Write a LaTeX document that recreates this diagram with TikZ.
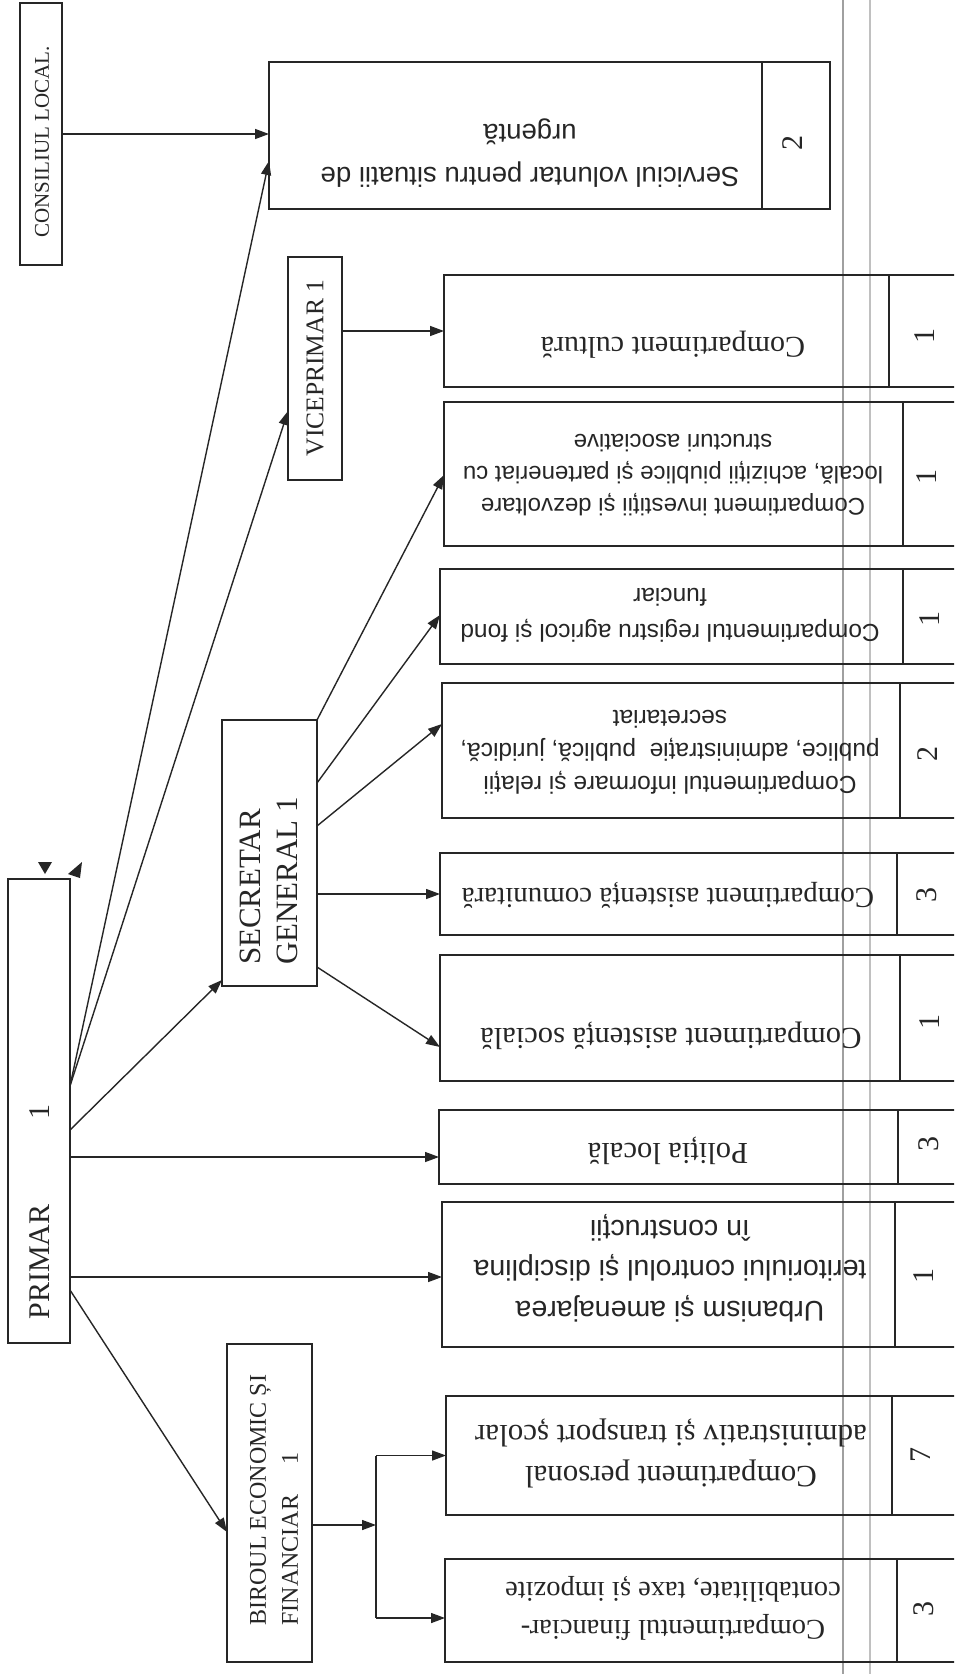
\documentclass[tikz,border=0pt]{standalone}
\usepackage{fontspec}
\setmainfont{Liberation Serif}
\newfontfamily\arialf{Liberation Sans}
\usetikzlibrary{arrows.meta}
\definecolor{ink}{HTML}{262626}
\definecolor{scanA}{HTML}{A0A0A0}
\definecolor{scanB}{HTML}{C0C0C0}
\newcommand{\myfs}[2]{\fontsize{#1}{#2}\selectfont}
\begin{document}
\begin{tikzpicture}[x=1pt,y=-1pt,
  box/.style={draw=ink,line width=1.7pt,inner sep=0pt,outer sep=0pt},
  btxt/.style={rotate=180,align=center,text=ink,inner sep=0pt},
  ltxt/.style={rotate=90,align=left,text=ink,inner sep=0pt},
  num/.style={rotate=90,text=ink,inner sep=0pt,font=\myfs{30}{34}},
  arr/.style={draw=ink,line width=1.4pt,-{Triangle[length=14pt,width=10pt]}},
  lin/.style={draw=ink,line width=1.4pt}]
\fill[white] (0,0) rectangle (954,1674);
\useasboundingbox (0,0) rectangle (954,1674);
\clip (0,0) rectangle (954,1674);

% scan artefact lines
\draw[scanA,line width=1.4pt] (843,0) -- (843,1674);
\draw[scanB,line width=1.2pt] (870,0) -- (870,1674);

% ---------- left column ----------
\node[box,minimum width=42pt,minimum height=262pt] (cons) at (41,134) {};
\node[ltxt,font=\myfs{21}{24}] (consT) at (42,142) {CONSILIUL LOCAL.};

\node[box,minimum width=62pt,minimum height=464pt] (prim) at (39,1111) {};
\node[ltxt,font=\myfs{30}{34}] (primT) at (40,1212) {PRIMAR\hspace{85pt}1};
\fill[ink] (38,862) -- (52,862) -- (45,874) -- cycle;
\fill[ink] (82,862) -- (80,878) -- (68,874) -- cycle;

% ---------- middle column ----------
\node[box,minimum width=54pt,minimum height=223pt] (vice) at (315,368.5) {};
\node[ltxt,font=\myfs{25.5}{30}] (viceT) at (315,368) {VICEPRIMAR 1};

\node[box,minimum width=95pt,minimum height=266pt] (sec) at (269.5,853) {};
\node[ltxt,font=\myfs{31}{37}] (secT) at (268.5,881) {SECRETAR\\GENERAL 1};

\node[box,minimum width=85pt,minimum height=318pt] (bir) at (269.5,1503) {};
\node[ltxt,font=\myfs{24}{32}] (birT) at (274,1500) {BIROUL ECONOMIC ȘI\\FINANCIAR\hspace{30pt}1};

% ---------- right column ----------
\node[box,minimum width=493pt,minimum height=147pt] (serv) at (515.5,135.5) {};
\node[box,minimum width=68pt,minimum height=147pt] (servN) at (796,135.5) {};
\node[btxt,font=\arialf\myfs{27.5}{43}] (servT) at (530,153) {Serviciul voluntar pentru situatii de\\urgentă};
\node[num] (servNum) at (793,143) {2};

\node[box,minimum width=445pt,minimum height=112pt] (cult) at (666.5,331) {};
\node[box,minimum width=86pt,minimum height=112pt] (cultN) at (932,331) {};
\node[btxt,font=\myfs{30}{34}] (cultT) at (673,345) {Compartiment cultură};
\node[num] (cultNum) at (925,336) {1};

\node[box,minimum width=459pt,minimum height=144pt] (inv) at (673.5,474) {};
\node[box,minimum width=72pt,minimum height=144pt] (invN) at (939,474) {};
\node[btxt,font=\arialf\myfs{24}{32}] (invT) at (673,475) {Compartiment investiții și dezvoltare\\locală, achiziții piublice și parteneriat cu\\structuri asociative};
\node[num] (invNum) at (927,477) {1};

\node[box,minimum width=463pt,minimum height=95pt] (reg) at (671.5,616.5) {};
\node[box,minimum width=72pt,minimum height=95pt] (regN) at (939,616.5) {};
\node[btxt,font=\arialf\myfs{24.5}{36}] (regT) at (670,615) {Compartimentul registru agricol și fond\\funciar};
\node[num] (regNum) at (930,619) {1};

\node[box,minimum width=458pt,minimum height=135pt] (inf) at (671,750.5) {};
\node[box,minimum width=75pt,minimum height=135pt] (infN) at (937.5,750.5) {};
\node[btxt,font=\arialf\myfs{24.5}{33}] (infT) at (670,752) {Compartimentul informare și relații\\publice, administrație\ \ publică, juridică,\\secretariat};
\node[num] (infNum) at (928,754) {2};

\node[box,minimum width=457pt,minimum height=82pt] (com) at (668.5,894) {};
\node[box,minimum width=78pt,minimum height=82pt] (comN) at (936,894) {};
\node[btxt,font=\myfs{29}{34}] (comT) at (668,895) {Compartiment asistență comunitară};
\node[num] (comNum) at (927,895) {3};

\node[box,minimum width=460pt,minimum height=126pt] (soc) at (670,1018) {};
\node[box,minimum width=75pt,minimum height=126pt] (socN) at (937.5,1018) {};
\node[btxt,font=\myfs{30.5}{34}] (socT) at (671,1036) {Compartiment asistență socială};
\node[num] (socNum) at (930,1022) {1};

\node[box,minimum width=459pt,minimum height=74pt] (pol) at (668.5,1147) {};
\node[box,minimum width=77pt,minimum height=74pt] (polN) at (936.5,1147) {};
\node[btxt,font=\myfs{30.5}{34}] (polT) at (668,1151) {Poliția locală};
\node[num] (polNum) at (929,1144) {3};

\node[box,minimum width=453pt,minimum height=145pt] (urb) at (668.5,1274.5) {};
\node[box,minimum width=80pt,minimum height=145pt] (urbN) at (935,1274.5) {};
\node[btxt,font=\arialf\myfs{28.5}{40.5}] (urbT) at (670,1268) {Urbanism și amenajarea\\teritoriului controlul și disciplina\\în construcții};
\node[num] (urbNum) at (924,1276) {1};

\node[box,minimum width=446pt,minimum height=119pt] (pers) at (669,1455.5) {};
\node[box,minimum width=83pt,minimum height=119pt] (persN) at (933.5,1455.5) {};
\node[btxt,font=\myfs{31}{41}] (persT) at (671,1453) {Compartiment personal\\administrativ și transport școlar};
\node[num] (persNum) at (921,1455) {7};

\node[box,minimum width=452pt,minimum height=103pt] (fin) at (671,1610.5) {};
\node[box,minimum width=78pt,minimum height=103pt] (finN) at (936,1610.5) {};
\node[btxt,font=\myfs{28.5}{38}] (finT) at (673,1608) {Compartimentul financiar-\\contabilitate, taxe și impozite};
\node[num] (finNum) at (924,1609) {3};

% ---------- connectors ----------
\draw[arr] (cons.east) -- (cons.east -| serv.west);
\draw[arr] ([yshift=25pt]prim.east) -- (serv.west |- 0,161);
\draw[arr] ([yshift=25pt]prim.east) -- (vice.west |- 0,411);
\draw[arr] (prim.east |- 0,1130) -- ([yshift=6pt]sec.south west);
\draw[arr] (prim.east |- 0,1157) -- (pol.west |- 0,1157);
\draw[arr] (prim.east |- 0,1277) -- (urb.west |- 0,1277);
\draw[arr] (prim.east |- 0,1290) -- (bir.west |- 0,1532);

\draw[arr] (cult.west -| vice.east) -- (cult.west);

\draw[arr] (sec.north east) -- (inv.west |- 0,475);
\draw[arr] (sec.east |- 0,783) -- (reg.west |- 0,615);
\draw[arr] (sec.east |- 0,826) -- (inf.west |- 0,724);
\draw[arr] (sec.east |- com.west) -- (com.west);
\draw[arr] (sec.east |- 0,967) -- (soc.west |- 0,1047);

\coordinate (jm) at (376,1525);
\coordinate (jt) at (376,1455.5);
\coordinate (jb) at (376,1618);
\draw[arr] (bir.east |- jm) -- (jm);
\draw[lin] (jt) -- (jb);
\draw[arr] (jt) -- (jt -| pers.west);
\draw[arr] (jb) -- (jb -| fin.west);
\end{tikzpicture}
\end{document}
